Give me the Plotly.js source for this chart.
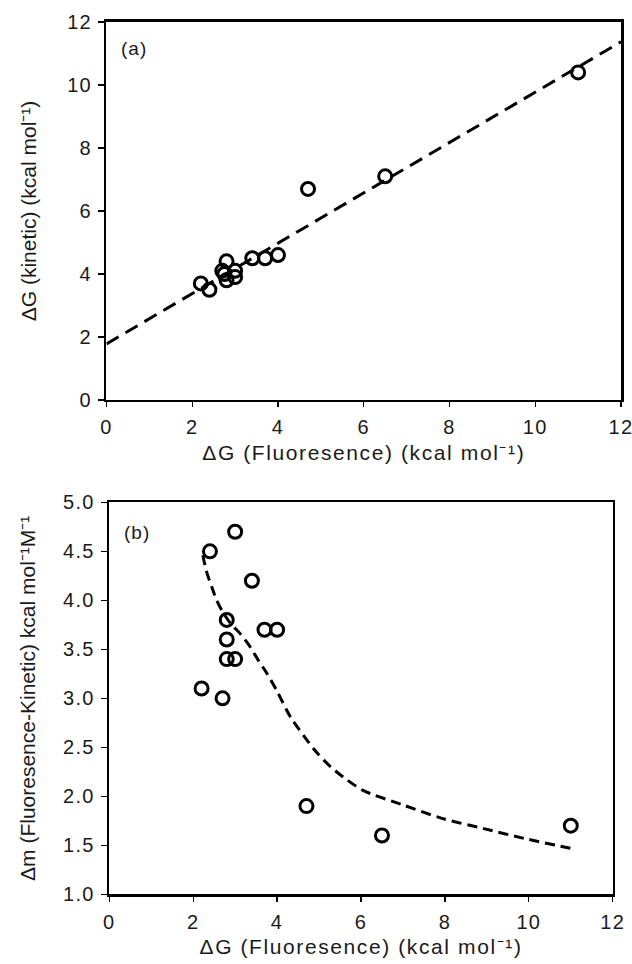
<!DOCTYPE html>
<html>
<head>
<meta charset="utf-8">
<script src="https://cdn.plot.ly/plotly-3.0.1.min.js"></script>
<style>
  html, body { margin: 0; padding: 0; background: #fff; }
  #chart { width: 632px; height: 964px; }
  .xtitle, .x2title { letter-spacing: 1.6px; }
  .xtick text, .x2tick text, .ytick text, .y2tick text { letter-spacing: 1.3px; }
  .annotation-text { letter-spacing: 1px; }
</style>
</head>
<body>
<div id="chart"></div>
<script>
// Panel (a): ΔG kinetic vs ΔG fluorescence
const fluorA = [2.2, 2.4, 2.7, 2.75, 2.8, 2.8, 3.0, 3.0, 3.4, 3.7, 4.0, 4.7, 6.5, 11.0];
const kineticA = [3.7, 3.5, 4.1, 4.0, 4.4, 3.8, 3.9, 4.1, 4.5, 4.5, 4.6, 6.7, 7.1, 10.4];
const fitAx = [0, 12];
const fitAy = [1.78, 11.37];

// Panel (b): Δm vs ΔG fluorescence
const fluorB = [2.2, 2.4, 2.7, 2.8, 2.8, 2.8, 3.0, 3.0, 3.4, 3.7, 4.0, 4.7, 6.5, 11.0];
const deltaM = [3.1, 4.5, 3.0, 3.4, 3.6, 3.8, 3.4, 4.7, 4.2, 3.7, 3.7, 1.9, 1.6, 1.7];
const fitBx = [2.23, 2.32, 2.44, 2.56, 2.68, 2.88, 3.12, 3.35, 3.55, 3.75, 3.99, 4.32, 4.90, 5.28, 5.66, 6.05, 7.01, 7.97, 8.93, 9.89, 10.99];
const fitBy = [4.46, 4.29, 4.14, 4.00, 3.90, 3.77, 3.66, 3.53, 3.39, 3.26, 3.08, 2.81, 2.47, 2.30, 2.17, 2.06, 1.91, 1.77, 1.67, 1.57, 1.47];

const xTickVals = [0, 2, 4, 6, 8, 10, 12];
const yTickValsA = [0, 2, 4, 6, 8, 10, 12];
const yTickValsB = [1.0, 1.5, 2.0, 2.5, 3.0, 3.5, 4.0, 4.5, 5.0];

const xTitle = '\u0394G (Fluoresence) (kcal mol\u207B\u00B9)';
const yTitleA = '\u0394G (kinetic) (kcal mol\u207B\u00B9)';
const yTitleB = '\u0394m (Fluoresence-Kinetic) kcal mol\u207B\u00B9M\u207B\u00B9';

const FONT = "'Liberation Sans', Arial, sans-serif";
const TXT = '#1a1a1a';

const markerStyle = { symbol: 'circle-open', size: 13, color: '#000', line: { width: 3, color: '#000' } };

const traces = [
  { x: fitAx, y: fitAy, mode: 'lines', line: { color: '#000', width: 3, dash: '14px,8px' }, xaxis: 'x', yaxis: 'y', hoverinfo: 'skip' },
  { x: fluorA, y: kineticA, mode: 'markers', marker: markerStyle, xaxis: 'x', yaxis: 'y' },
  { x: fitBx, y: fitBy, mode: 'lines', line: { color: '#000', width: 3, dash: '10px,6px', shape: 'spline', smoothing: 0.8 }, xaxis: 'x2', yaxis: 'y2', hoverinfo: 'skip' },
  { x: fluorB, y: deltaM, mode: 'markers', marker: markerStyle, xaxis: 'x2', yaxis: 'y2' }
];

function xAxis(domain, anchor) {
  return {
    domain: domain, anchor: anchor, range: [0, 12], tickvals: xTickVals,
    showline: true, linecolor: '#000', linewidth: 2.5, mirror: true,
    ticks: 'outside', ticklen: 5, tickwidth: 1.2, tickcolor: '#000',
    showgrid: false, zeroline: false, ticklabelstandoff: 3, ticklabeloverflow: 'allow',
    tickfont: { family: FONT, size: 20, color: TXT },
    title: { text: xTitle, font: { family: FONT, size: 21, color: TXT }, standoff: 8 }
  };
}
function yAxis(domain, anchor, range, vals, fmt, title, standoff) {
  return {
    domain: domain, anchor: anchor, range: range, tickvals: vals, tickformat: fmt,
    showline: true, linecolor: '#000', linewidth: 2.5, mirror: true,
    ticks: 'outside', ticklen: 6, tickwidth: 1.2, tickcolor: '#000',
    showgrid: false, zeroline: false, ticklabelstandoff: 2, ticklabeloverflow: 'allow',
    tickfont: { family: FONT, size: 20, color: TXT },
    title: { text: title, font: { family: FONT, size: 21, color: TXT }, standoff: standoff }
  };
}

const layout = {
  width: 632, height: 964,
  margin: { l: 0, r: 0, t: 0, b: 0 },
  paper_bgcolor: '#fff', plot_bgcolor: '#fff',
  showlegend: false,
  xaxis: xAxis([0.1685, 0.9826], 'y'),
  yaxis: yAxis([0.5851, 0.9772], 'x', [0, 12], yTickValsA, 'd', yTitleA, 25),
  xaxis2: xAxis([0.1729, 0.9695], 'y2'),
  yaxis2: yAxis([0.0723, 0.4789], 'x2', [1, 5], yTickValsB, '.1f', yTitleB, 22),
  annotations: [
    { text: '(a)', x: 0.65, y: 11.17, xref: 'x', yref: 'y', showarrow: false, font: { family: FONT, size: 19, color: TXT } },
    { text: '(b)', x: 0.66, y: 4.69, xref: 'x2', yref: 'y2', showarrow: false, font: { family: FONT, size: 19, color: TXT } }
  ]
};

Plotly.newPlot('chart', traces, layout, { staticPlot: true, displayModeBar: false });
</script>
</body>
</html>
